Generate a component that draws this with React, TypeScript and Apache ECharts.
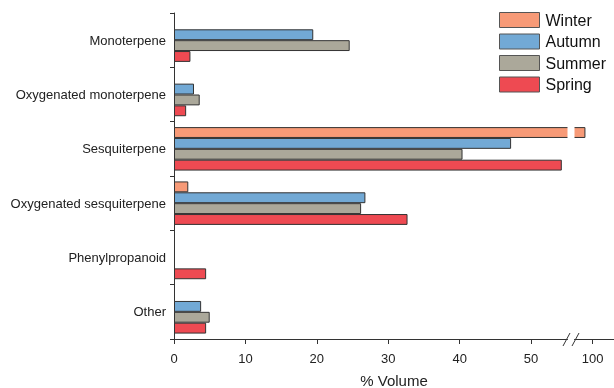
import React, { useEffect, useRef } from "react";
import * as echarts from "echarts";

const categories = [
  "Monoterpene",
  "Oxygenated monoterpene",
  "Sesquiterpene",
  "Oxygenated sesquiterpene",
  "Phenylpropanoid",
  "Other",
];
const seriesNames = ["Winter", "Autumn", "Summer", "Spring"];
const winter = [0, 0, 99, 2.0, 0, 0];
const autumn = [19.5, 2.8, 47.2, 26.8, 0, 3.8];
const summer = [24.6, 3.6, 40.4, 26.2, 0, 5.0];
const spring = [2.3, 1.7, 54.3, 32.7, 4.5, 4.5];
const xTicks = [0, 10, 20, 30, 40, 50, 100];
const colors = ["#F79A77", "#72A9D5", "#ABA89A", "#EE4A52"];

export default function App() {
  const ref = useRef<HTMLDivElement>(null);
  useEffect(() => {
    if (!ref.current) return;
    const chart = echarts.init(ref.current, null, { renderer: "svg" });
    const all = [winter, autumn, summer, spring];
    const font = "'Liberation Sans', Arial, sans-serif";
    chart.setOption({
      animation: false,
      textStyle: { fontFamily: font },
      grid: {
        left: 174,
        top: 13,
        right: 0,
        bottom: 49,
        containLabel: false,
        outerBoundsMode: "none",
      },
      legend: {
        orient: "vertical",
        left: 499,
        top: 12,
        padding: 0,
        itemWidth: 40,
        itemHeight: 15,
        itemGap: 5.5,
        z: 200,
        itemStyle: { borderColor: "#555", borderWidth: 1 },
        textStyle: {
          fontSize: 16,
          lineHeight: 15,
          color: "#111",
          fontFamily: font,
          padding: [0, 0, 0, 1],
        },
        data: seriesNames.map((n) => ({ name: n, icon: "rect" })),
      },
      xAxis: {
        type: "value",
        min: 0,
        max: 103,
        interval: 10,
        breaks: [{ start: 55, end: 97.5, gap: "1.8%" }],
        breakArea: {
          show: true,
          itemStyle: { color: "#fff", borderColor: "#fff", borderWidth: 0, opacity: 1 },
          zigzagAmplitude: 0,
          zigzagZ: 3,
          expandOnClick: false,
        },
        splitLine: { show: false },
        axisLine: { show: true, lineStyle: { color: "#333", width: 1 } },
        axisTick: {
          show: true,
          length: 5,
          lineStyle: { color: "#333" },
          customValues: xTicks,
        },
        axisLabel: {
          color: "#222",
          fontSize: 13,
          margin: 13,
          customValues: xTicks,
          formatter: (v: number) => String(Math.round(v)),
        },
        name: "% Volume",
        nameLocation: "middle",
        nameGap: 34,
        nameTextStyle: { fontSize: 15, color: "#222", fontFamily: font },
      },
      yAxis: {
        type: "category",
        data: categories,
        inverse: true,
        axisLine: { show: true, lineStyle: { color: "#333", width: 1 } },
        axisTick: { show: true, length: 4, lineStyle: { color: "#333" } },
        axisLabel: { color: "#222", fontSize: 13, margin: 8 },
      },
      series: seriesNames.map((name, i) => ({
        name,
        type: "bar",
        data: all[i].map((v) => (v === 0 ? null : v)),
        barGap: "0%",
        barCategoryGap: "20%",
        itemStyle: { color: colors[i], borderColor: "#333", borderWidth: 1 },
      })),
      graphic: [
        {
          type: "line",
          z: 101,
          shape: { x1: 563, y1: 346, x2: 570, y2: 333 },
          style: { stroke: "#333", lineWidth: 1 },
        },
        {
          type: "line",
          z: 101,
          shape: { x1: 572, y1: 346, x2: 579, y2: 333 },
          style: { stroke: "#333", lineWidth: 1 },
        },
      ],
    });
    return () => chart.dispose();
  }, []);
  return (
    <div
      ref={ref}
      style={{ position: "fixed", left: 0, top: 0, width: 614, height: 388 }}
    />
  );
}
